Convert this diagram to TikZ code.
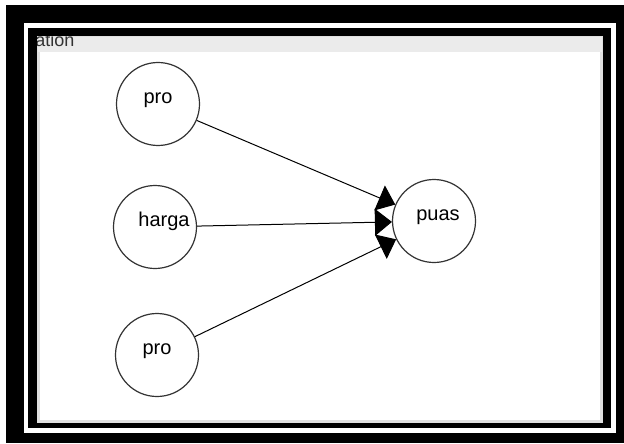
\documentclass[tikz,border=0pt]{standalone}
\usepackage{fontspec}
\setmainfont{Liberation Sans}
\usetikzlibrary{arrows.meta}
\tikzset{
  var/.style={draw=black!80, circle, line width=0.6pt, minimum size=41.5pt, inner sep=0pt,
    font=\fontsize{10}{12}\selectfont, text height=5pt, text depth=5.8pt},
  link/.style={-{Triangle[length=8.5pt, width=13.5pt]}, line width=0.5pt, black}
}
\begin{document}
\begin{tikzpicture}[x=0.5pt, y=-0.5pt]
    \useasboundingbox (0,0) rectangle (624,443);
    % Frame
    \fill[black] (6,5) rectangle (624,443);
    \fill[white] (24,23) rectangle (616,433);
    \fill[black] (28,28) rectangle (611,428);
    \fill[white] (37,36) rectangle (603,423);
    \draw[black!12, line width=1.5pt] (38.5,37.5) rectangle (601.5,421.5);
    \fill[black!8] (38,37) rectangle (602,52);
    \begin{scope}
      \clip (37,37) rectangle (603,52);
      \node[anchor=base west, inner sep=0pt, text=black!80, font=\fontsize{9}{10}\selectfont] (title) at (35,47) {ation};
    \end{scope}
    % Inputs
    \node[var] (pro1) at (158,104) {pro};
    \node[var] (harga) at (155,227) {\hspace*{9pt}harga};
    \node[var] (pro2) at (157,355) {pro};
    % Output
    \node[var] (puas) at (434,221) {\hspace*{4pt}puas};

    \draw[link] (pro1) -- (puas);
    \draw[link] (harga) -- (puas);
    \draw[link] (pro2) -- (puas);
\end{tikzpicture}
\end{document}
